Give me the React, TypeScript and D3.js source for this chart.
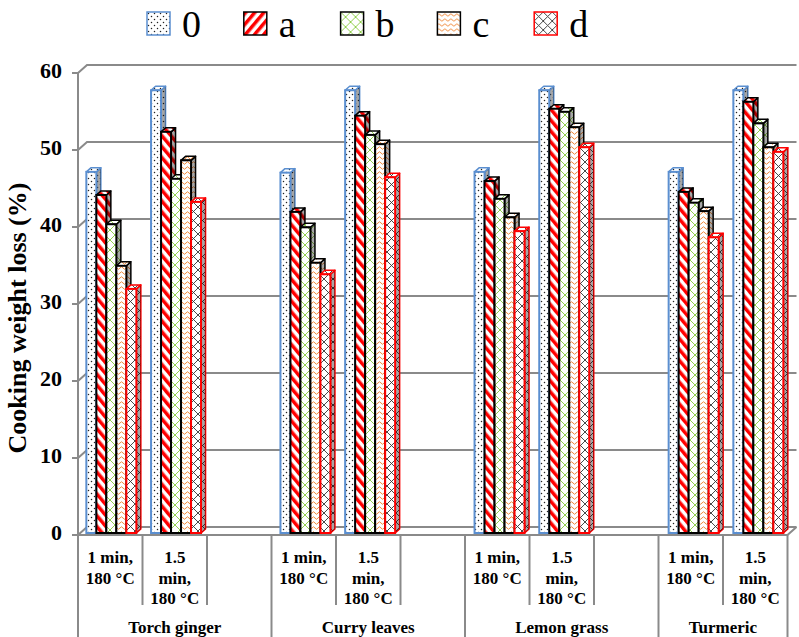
import React from "react";
import * as d3 from "d3";

// categories and conditions
const categories = ["Torch ginger", "Curry leaves", "Lemon grass", "Turmeric"];
const conditions = ["1 min", "1.5 min"];
const conditionLabels: string[][] = [["1 min,", "180 °C"], ["1.5", "min,", "180 °C"]];
const seriesKeys = ["0", "a", "b", "c", "d"];

// values in order TG-1, TG-1.5, CL-1, CL-1.5, LG-1, LG-1.5, TU-1, TU-1.5
const s0 = [46.9, 57.5, 46.8, 57.5, 46.9, 57.5, 46.9, 57.5];
const sa = [43.9, 52.1, 41.7, 54.2, 45.7, 55.1, 44.3, 56.0];
const sb = [40.1, 46.0, 39.7, 51.7, 43.4, 54.7, 42.9, 53.2];
const sc = [34.7, 48.4, 35.1, 50.5, 41.0, 52.7, 41.8, 50.1];
const sd = [31.7, 43.0, 33.6, 46.2, 39.2, 50.1, 38.4, 49.5];
const seriesValues = [s0, sa, sb, sc, sd];

const yTicks = [0, 10, 20, 30, 40, 50, 60];

const W = 799, H = 637;
const serif = { fontFamily: "Liberation Serif" };

// 3d wall depth
const DX = 9, DY = 8;
// bar depth
const BDX = 4.5, BDY = 4;

const borders: Record<string, string> = { "0": "#5b8fd0", a: "#000", b: "#000", c: "#000", d: "#ff0000" };
const fills: Record<string, string> = { "0": "url(#p0)", a: "url(#pa)", b: "url(#pb)", c: "url(#pc)", d: "url(#pd)" };
const legendFills: Record<string, string> = { "0": "url(#p0)", a: "url(#paL)", b: "url(#pb)", c: "url(#pc)", d: "url(#pd)" };

// slot list: each category has 1 min, 1.5 min and an empty slot (last one dropped)
const slots: { cat: string; cond: string | null; idx: number | null }[] = [];
categories.forEach((cat, ci) => {
  conditions.forEach((cond, k) => slots.push({ cat, cond, idx: ci * 2 + k }));
  if (ci < categories.length - 1) slots.push({ cat, cond: null, idx: null });
});
const slotIds = slots.map((_, i) => String(i));

export default function App() {
  const xSlot = d3.scaleBand<string>().domain(slotIds).range([78, 787.5]).padding(0);
  const xBarSlot = d3.scaleBand<string>().domain(slotIds).range([79, 79 + 64.7 * slotIds.length]).padding(0);
  const xSeries = d3.scaleBand<string>().domain(seriesKeys).range([0, xBarSlot.bandwidth()]).paddingInner(0).paddingOuter(0.735);
  const yBack = d3.scaleLinear().domain([0, 60]).range([527, 65]);
  const yFront = (v: number) => yBack(v) + DY;

  const left = xSlot.range()[0];
  const right = xSlot.range()[1];

  const bars: React.ReactNode[] = [];
  slots.forEach((s, si) => {
    if (s.idx === null) return;
    seriesKeys.forEach((k, ki) => {
      const v = seriesValues[ki][s.idx as number];
      const x0 = xBarSlot(String(si))! + xSeries(k)!;
      const w = xSeries.bandwidth();
      const yt = yBack(v) + 6;
      const yb = yBack(0) + 6;
      const side = `M${x0 + w},${yt} L${x0 + w + BDX},${yt - BDY} L${x0 + w + BDX},${yb - BDY} L${x0 + w},${yb} Z`;
      const top = `M${x0},${yt} L${x0 + BDX},${yt - BDY} L${x0 + w + BDX},${yt - BDY} L${x0 + w},${yt} Z`;
      bars.push(
        <g key={`${si}-${k}`}>
          <path d={side} fill={fills[k]} stroke={borders[k]} strokeWidth={1.5} strokeLinejoin="round" />
          <path d={side} fill="#000" opacity={0.35} />
          <path d={top} fill={fills[k]} stroke={borders[k]} strokeWidth={1.5} strokeLinejoin="round" />
          <rect x={x0} y={yt} width={w} height={yb - yt} fill={fills[k]} stroke={borders[k]} strokeWidth={2} />
        </g>
      );
    });
  });

  const boundaries = [...slotIds.map((id) => xSlot(id)!), right];
  const catBoundary = new Set<number>();
  slots.forEach((s, i) => {
    if (i === 0 || slots[i - 1].cat !== s.cat) catBoundary.add(i);
  });
  catBoundary.add(slots.length);

  const legendX = d3.scaleBand<string>().domain(seriesKeys).range([147, 147 + 96.8 * seriesKeys.length]);

  return (
    <svg width={W} height={H} style={{ position: "absolute", left: 0, top: 0, background: "#fff" }}>
      <defs>
        <pattern id="p0" width={6} height={6} patternUnits="userSpaceOnUse">
          <rect width={6} height={6} fill="#fff" />
          <circle cx={1.5} cy={1.5} r={0.75} fill="#222" />
          <circle cx={4.5} cy={4.5} r={0.75} fill="#222" />
        </pattern>
        <pattern id="pa" width={7} height={7} patternUnits="userSpaceOnUse" patternTransform="rotate(-40)">
          <rect width={7} height={7} fill="#fff" />
          <rect width={3.5} height={7} fill="#ff0000" />
        </pattern>
        <pattern id="paL" width={7} height={7} patternUnits="userSpaceOnUse" patternTransform="rotate(40)">
          <rect width={7} height={7} fill="#fff" />
          <rect width={3.5} height={7} fill="#ff0000" />
        </pattern>
        <pattern id="pb" width={10} height={10} patternUnits="userSpaceOnUse">
          <rect width={10} height={10} fill="#fff" />
          <path d="M0,0 L10,10 M10,0 L0,10" stroke="#92d050" strokeWidth={1} />
        </pattern>
        <pattern id="pc" width={6} height={5} patternUnits="userSpaceOnUse">
          <rect width={6} height={5} fill="#fff" />
          <path d="M0,3 Q1.5,0.5 3,3 T6,3" fill="none" stroke="#f08a3c" strokeWidth={1} />
        </pattern>
        <pattern id="pd" width={9} height={9} patternUnits="userSpaceOnUse">
          <rect width={9} height={9} fill="#fff" />
          <path d="M0,0 L9,9 M9,0 L0,9" stroke="#333" strokeWidth={0.9} />
        </pattern>
      </defs>

      {/* legend */}
      {seriesKeys.map((k) => (
        <g key={k} transform={`translate(${legendX(k)},12)`}>
          <rect width={23} height={23} fill={legendFills[k]} stroke={borders[k]} strokeWidth={1.5} />
          <text x={35} y={25} fontSize={38} style={serif}>{k}</text>
        </g>
      ))}

      {/* gridlines with wall depth */}
      {yTicks.map((t) => (
        <path key={t} d={`M${left},${yFront(t)} L${left + DX},${yBack(t)} L${right + DX},${yBack(t)}`}
          stroke="#8a8a8a" strokeWidth={2} fill="none" />
      ))}
      {/* floor front edge */}
      <path d={`M${left},${yFront(0)} L${right},${yFront(0)} L${right + DX},${yBack(0)}`} stroke="#8a8a8a" strokeWidth={2} fill="none" />

      {/* y axis */}
      <line x1={left} x2={left} y1={yFront(60)} y2={yFront(0)} stroke="#8a8a8a" strokeWidth={2} />
      {yTicks.map((t) => (
        <g key={t}>
          <line x1={left - 6} x2={left} y1={yFront(t)} y2={yFront(t)} stroke="#8a8a8a" strokeWidth={2} />
          <text x={62} y={yFront(t)} textAnchor="end" dominantBaseline="middle" fontSize={22} fontWeight="bold" style={serif}>{t}</text>
        </g>
      ))}
      <text transform={`translate(26,318) rotate(-90)`} textAnchor="middle" fontSize={26} fontWeight="bold" style={serif}>
        Cooking weight loss (%)
      </text>

      {bars}

      {/* category axis */}
      {boundaries.map((x, i) => (
        <line key={i} x1={x} x2={x} y1={yFront(0)} y2={catBoundary.has(i) ? H : 605} stroke="#8a8a8a" strokeWidth={2} />
      ))}
      {slots.map((s, i) => {
        if (s.cond === null) return null;
        const lines = conditionLabels[conditions.indexOf(s.cond)];
        const cx = xSlot(String(i))! + xSlot.bandwidth() / 2;
        return (
          <text key={i} textAnchor="middle" fontSize={17} fontWeight="bold" style={serif}>
            {lines.map((ln, j) => (
              <tspan key={j} x={cx} y={563 + j * 20.5}>{ln}</tspan>
            ))}
          </text>
        );
      })}
      {categories.map((c) => {
        const idx = slots.map((s, i) => (s.cat === c ? i : -1)).filter((i) => i >= 0);
        const x1 = xSlot(String(idx[0]))!;
        const x2 = xSlot(String(idx[idx.length - 1]))! + xSlot.bandwidth();
        return (
          <text key={c} x={(x1 + x2) / 2} y={633} textAnchor="middle" fontSize={17} fontWeight="bold" style={serif}>{c}</text>
        );
      })}
    </svg>
  );
}
